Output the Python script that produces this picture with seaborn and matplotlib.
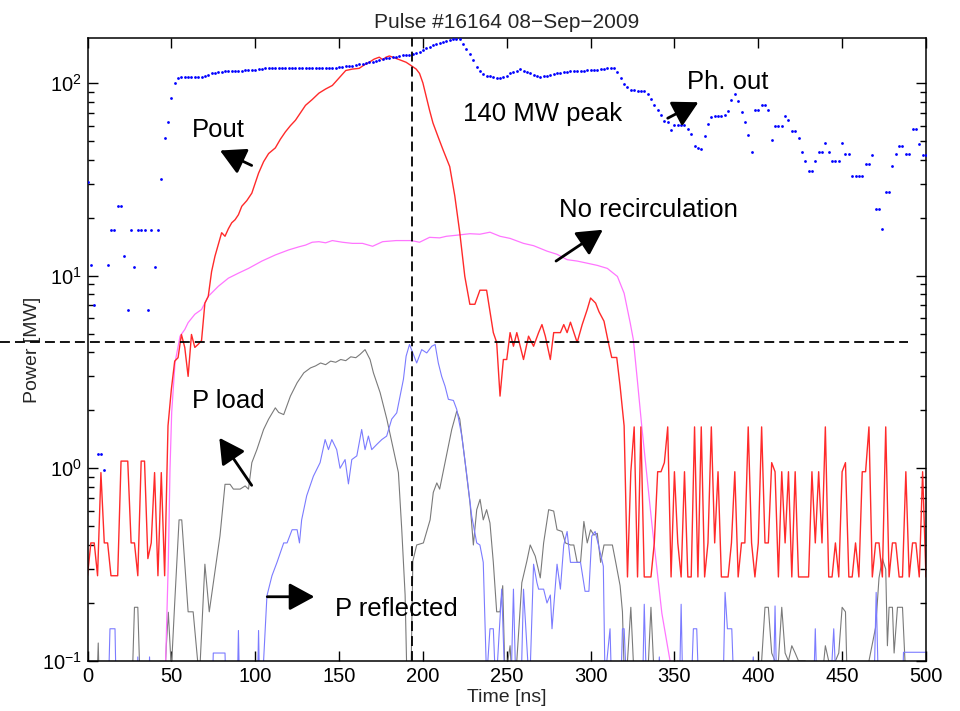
import numpy as np
import matplotlib
matplotlib.use("Agg")
import matplotlib.pyplot as plt
import seaborn as sns

sns.set_theme(style="ticks")
plt.rcParams['font.family'] = ['Liberation Sans', 'DejaVu Sans']
plt.rcParams['mathtext.default'] = 'regular'

# ---------------- data (time [ns], power [MW]) ----------------
pout_pts = [(0, 0.277), (2, 0.41), (4, 0.41), (6, 0.277), (8, 0.95), (10, 0.41), (12, 0.41),
            (14, 0.277), (18, 0.277), (20, 1.09), (24, 1.09), (26, 0.41), (28, 0.41), (30, 0.277),
            (32, 1.09), (34, 1.09), (36, 0.34), (38, 0.41), (40, 0.95), (42, 0.277), (44, 0.95),
            (46, 0.277), (48, 1.66), (50, 2.57), (52, 3.6), (54, 3.75), (56, 4.95), (58, 4.24),
            (60, 3.0), (62, 4.95), (64, 4.24), (66, 4.4), (68, 4.6), (70, 7.2), (72, 7.8),
            (74, 10.5), (76, 12.6), (78, 14.5), (80, 16.7), (82, 16.0), (84, 17.5), (86, 18.8),
            (88, 19.5), (90, 20.7), (92, 22.9), (95, 24.5), (98, 26.8), (102, 34), (105, 39),
            (108, 43), (112, 46), (115, 51), (118, 55.7), (121, 60), (124, 64), (127, 70),
            (130, 76.5), (134, 82), (138, 88.5), (142, 93), (146, 97), (150, 106), (154, 116),
            (158, 118), (162, 119), (165, 124), (168, 128), (171, 133), (174, 136), (176, 132),
            (178, 136), (180, 138), (183, 135), (186, 132), (190, 128), (193, 123), (196, 118),
            (198, 112), (200, 100), (202, 85), (204, 72), (206, 62), (209, 52.7), (212, 45),
            (216, 36.8), (219, 26), (222, 16.7), (225, 9.9), (228, 7.1), (231, 7.1), (234, 8.4),
            (238, 8.4), (242, 5.06), (244, 4.5), (246, 2.37), (248, 3.67), (250, 3.67),
            (252, 5.06), (254, 4.3), (256, 5.06), (258, 4.3), (260, 3.67), (263, 4.85),
            (266, 4.3), (269, 5.06), (271, 5.57), (273, 4.85), (276, 3.67), (278, 5.06),
            (282, 5.06), (284, 5.57), (286, 5.06), (288, 5.73), (292, 4.5), (295, 5.57),
            (298, 6.67), (300, 7.65), (303, 7.2), (305, 6.5), (308, 5.8), (310.6, 4.5),
            (312.6, 3.76), (315.6, 3.76), (317.6, 2.67), (320, 1.66)]
# noise floor after the pulse, sampled every 2 ns from 322 ns
pout_tail = [0.273, 0.96, 1.64, 0.273, 1.64, 0.273, 0.273, 0.273, 0.41, 0.96,
             0.96, 1.07, 1.64, 0.273, 0.96, 0.41, 0.273, 0.96, 0.273, 0.273,
             1.64, 0.273, 1.64, 0.273, 0.41, 1.64, 0.41, 0.96, 0.273, 0.273,
             0.273, 0.41, 0.96, 0.273, 0.41, 0.41, 1.64, 0.41, 0.273, 0.41,
             1.64, 0.41, 0.41, 1.07, 0.96, 0.273, 0.96, 0.41, 0.96, 0.273,
             0.96, 0.273, 0.273, 0.273, 0.273, 0.96, 0.41, 0.96, 0.41, 1.64,
             0.273, 0.273, 0.41, 0.273, 0.96, 1.07, 0.273, 0.273, 0.41, 0.273,
             0.96, 0.96, 1.64, 0.273, 0.41, 0.41, 0.273, 1.64, 0.273, 0.41,
             0.41, 0.273, 0.273, 0.96, 0.273, 0.41, 0.41, 0.273, 0.96, 0.273]

norecirc_pts = [(46.6, 0.1), (48.2, 0.33), (49.2, 0.99), (50.2, 1.95), (52.2, 3.54), (55.2, 4.85),
                (58, 5.25), (60, 5.7), (64, 6.3), (68, 6.67), (72, 7.8), (78, 8.8), (84, 9.7),
                (90, 10.3), (96, 10.9), (104, 11.9), (112, 12.8), (120, 13.6), (126, 14.1),
                (130, 14.4), (134, 14.9), (138, 15.0), (142, 14.8), (146, 15.2), (152, 14.9),
                (158, 14.7), (164, 14.7), (170, 14.2), (176, 15.0), (184, 15.2), (193, 15.2),
                (198, 14.9), (204, 15.8), (210, 15.7), (214, 16.0), (220, 16.2), (228, 16.5),
                (234, 16.4), (240, 16.8), (246, 16.0), (252, 15.6), (260, 14.7), (266, 14.3),
                (274, 13.4), (280, 12.9), (286, 12.1), (292, 11.9), (298, 11.6), (304, 11.3),
                (310, 10.9), (316, 9.9), (320, 8.1), (323.6, 5.7), (325.5, 4.65), (328, 2.8),
                (330.5, 1.66), (336.5, 0.52), (342.5, 0.177), (347.4, 0.1), (350, 0.08)]

# photodiode output, one sample every 2 ns from 0 ns
phout = [30.5, 11.3, 7.07, 1.18, 1.18, 0.98, 11.4, 17.3, 17.3, 23, 23, 12.6, 6.67, 17.2,
         11.1, 17.2, 17.2, 17.2, 6.67, 17.2, 11.1, 17.2, 31.7, 52, 62.5, 84, 99.7, 106,
         107, 107, 107, 107, 107, 107, 107, 108, 110, 112, 113, 114, 114, 115, 115, 116,
         116, 116, 116, 117, 117, 117, 117, 118, 118, 119, 119, 119, 119, 119, 119, 119,
         119, 119, 119, 119, 119, 119, 119, 119, 119, 119, 119, 119, 120, 120, 120, 121,
         121, 122, 122, 123, 124, 125, 126, 127, 128, 129, 130, 131, 133, 134, 135, 136,
         137, 138, 139, 139, 140, 141, 143, 145, 148, 151, 154, 157, 159, 162, 164, 166,
         168, 170, 170, 170, 160, 150, 142, 131, 121, 115, 111, 109, 108, 107, 106, 106,
         107, 109, 112, 114, 116, 118, 116, 114, 112, 110, 108, 107, 108, 109, 110, 111,
         112, 113, 114, 114, 115, 115, 116, 116, 116, 117, 117, 117, 117, 118, 118, 119,
         119, 119, 114, 106, 99, 95, 92, 92, 91, 91, 91, 88, 83, 77, 72, 68, 63.8, 62.5,
         57, 60.8, 60.8, 60.8, 60.8, 57.6, 54.2, 47, 45.8, 45.3, 53, 61, 66.6, 67, 67,
         67.5, 68, 71.5, 81.5, 87.5, 81, 71, 63, 53.5, 44, 72.5, 72.5, 76.5, 76.5, 72,
         50.8, 60, 60, 60, 67.5, 64, 56, 56, 51.5, 44, 39.5, 34.8, 34.8, 39.5, 44, 44,
         48.5, 44, 39.5, 39.5, 39.5, 49, 43, 43, 33, 33, 33, 33, 37.8, 37.8, 42.3, 22.2,
         22.2, 17.5, 27.2, 27.2, 37, 43, 46.8, 46.8, 43, 43, 57.6, 57.6, 48.4, 42.3, 42.3]

pload_pts = [(0, 0.05), (5, 0.05), (6.4, 0.124), (7.5, 0.05), (26, 0.05), (28, 0.19), (30, 0.19),
             (32, 0.05), (45, 0.05), (47, 0.12), (48.2, 0.179), (50, 0.09), (52, 0.2), (54.6, 0.54),
             (56.2, 0.54), (60, 0.18), (63, 0.18), (66.7, 0.08), (70, 0.318), (72.6, 0.18),
             (79, 0.446), (82, 0.826), (85, 0.826), (87, 0.78), (91, 0.78), (94, 0.81), (96, 0.78),
             (98, 1.07), (101, 1.25), (105, 1.59), (108, 1.8), (112, 2.06), (114, 1.95),
             (117, 1.9), (121, 2.37), (125, 2.78), (129, 3.13), (133, 3.32), (136, 3.4),
             (139, 3.52), (142, 3.45), (145, 3.6), (148, 3.55), (151, 3.67), (154, 3.62),
             (157, 3.79), (160, 3.75), (162.5, 3.9), (165.5, 4.13), (168.5, 3.67), (170.5, 3.13),
             (174.5, 2.47), (178.5, 1.8), (182.4, 1.25), (185.4, 0.95), (187.4, 0.48),
             (189.4, 0.22), (191, 0.05), (192.5, 0.05), (194, 0.33), (196.3, 0.4), (200.3, 0.41),
             (204.3, 0.54), (206.2, 0.75), (208.3, 0.84), (210, 0.78), (213.2, 1.07),
             (217.2, 1.59), (220.2, 1.98), (222, 1.8), (225.2, 1.07), (228.1, 0.66), (230.1, 0.4),
             (232.1, 0.61), (234.1, 0.69), (236, 0.54), (238, 0.61), (240, 0.52), (242, 0.325),
             (244, 0.18), (246, 0.18), (247.6, 0.246), (249, 0.08), (252, 0.12), (254, 0.06),
             (256, 0.1), (259, 0.255), (262, 0.33), (264, 0.4), (267, 0.35), (270, 0.27),
             (272, 0.41), (275, 0.61), (278, 0.6), (280, 0.48), (283, 0.47), (285, 0.41),
             (288, 0.4), (290, 0.4), (292, 0.325), (294, 0.325), (296, 0.53), (298, 0.41),
             (300, 0.48), (302, 0.45), (304, 0.46), (306, 0.325), (308, 0.4), (311, 0.4),
             (313, 0.4), (315, 0.325), (317.6, 0.246), (319, 0.18), (320, 0.09), (322, 0.1),
             (324, 0.19), (326, 0.08), (334, 0.08), (336, 0.19), (338, 0.08), (350, 0.08),
             (352, 0.1), (354, 0.08), (400, 0.08), (402, 0.1), (404, 0.19), (406, 0.19),
             (408, 0.11), (410, 0.1), (412, 0.1), (414, 0.19), (416, 0.11), (418, 0.1),
             (420, 0.12), (422, 0.11), (424, 0.1), (428, 0.1), (430, 0.08), (438, 0.08),
             (440, 0.12), (442, 0.1), (446, 0.1), (448, 0.11), (450, 0.19), (452, 0.18),
             (453, 0.08), (462, 0.08), (466, 0.1), (470, 0.15), (472, 0.27), (474, 0.34),
             (476, 0.3), (477, 0.12), (478, 0.19), (480, 0.19), (481, 0.11), (483, 0.19),
             (486, 0.19), (488, 0.08), (500, 0.08)]

prefl_pts = [(0, 0.05), (12, 0.05), (13.4, 0.147), (16.4, 0.147), (17.4, 0.05), (29, 0.05),
             (30, 0.105), (31, 0.05), (36, 0.05), (37, 0.105), (38, 0.05), (74, 0.05), (75, 0.11),
             (82, 0.11), (83, 0.05), (89, 0.05), (90, 0.144), (91, 0.05), (101, 0.05),
             (102, 0.144), (103, 0.05), (105, 0.1), (107, 0.218), (110, 0.277), (113, 0.325),
             (117, 0.41), (119, 0.41), (122, 0.48), (125, 0.48), (126.4, 0.41), (127.7, 0.54),
             (130.7, 0.72), (134.7, 0.91), (138.7, 1.07), (141.7, 1.41), (143.7, 1.25),
             (145.7, 1.41), (148.6, 1.25), (150.6, 1.0), (153.6, 1.11), (155.6, 0.83),
             (157.6, 1.11), (160.6, 1.16), (163.5, 1.59), (165.5, 1.25), (167.5, 1.47),
             (169.5, 1.25), (172.5, 1.33), (175.5, 1.41), (178.4, 1.47), (181.4, 1.8),
             (184.4, 1.94), (186.4, 2.37), (188.4, 2.9), (190, 3.82), (192, 4.39), (194, 3.97),
             (196.3, 3.52), (199.3, 4.13), (202.3, 3.97), (205.3, 4.3), (207.3, 4.39),
             (209.2, 3.52), (211.2, 3.0), (213.2, 2.67), (215.2, 2.28), (218.2, 2.25),
             (220.2, 2.02), (223.2, 1.47), (226, 0.95), (229.1, 0.566), (232.1, 0.41),
             (234, 0.40), (236, 0.325), (238, 0.08), (240, 0.147), (242, 0.147), (243.5, 0.07),
             (247, 0.236), (249, 0.07), (252.5, 0.07), (254, 0.236), (255.5, 0.07),
             (258.5, 0.07), (260, 0.236), (263.6, 0.07), (266, 0.318), (268, 0.255),
             (269, 0.236), (272, 0.236), (274, 0.2), (276, 0.22), (277, 0.147), (280, 0.318),
             (282, 0.236), (284, 0.4), (286, 0.47), (288, 0.325), (291.7, 0.325), (294, 0.325),
             (296.7, 0.23), (299, 0.23), (300.7, 0.445), (302.7, 0.47), (304.7, 0.4),
             (307.6, 0.31), (308.6, 0.08), (311.6, 0.147), (312.6, 0.07), (318, 0.07),
             (319, 0.147), (320, 0.147), (321.6, 0.07), (331, 0.07), (332, 0.197),
             (333.4, 0.07), (340, 0.07), (341, 0.105), (342, 0.07), (353, 0.07), (354, 0.197),
             (355, 0.07), (360, 0.07), (361.3, 0.147), (363.3, 0.147), (364.5, 0.07),
             (379, 0.07), (380.2, 0.227), (381.6, 0.147), (384.2, 0.147), (385.5, 0.07),
             (396, 0.07), (397, 0.105), (398, 0.07), (409, 0.07), (410, 0.193), (411, 0.07),
             (433, 0.07), (434, 0.147), (435, 0.07), (443, 0.07), (445, 0.147), (446.5, 0.07),
             (469, 0.07), (470.3, 0.227), (471.7, 0.07), (486, 0.07), (486.6, 0.111),
             (500, 0.111)]

threshold_power = 4.55      # horizontal dashed reference [MW]
marker_time = 193.3         # vertical dashed reference [ns]
x_ticks = [0, 50, 100, 150, 200, 250, 300, 350, 400, 450, 500]

labels = ["Pout", "140 MW peak", "Ph. out", "No recirculation", "P load", "P reflected"]
label_pos = [(62.3, 52.5), (224, 63.6), (357.4, 92.8), (281.2, 20.1), (62.1, 2.05), (147.6, 0.1717)]
arrow_tail = [(97.9, 37.3), (346, 65.6), (279.4, 11.9), (97.9, 0.816), (107.2, 0.2155)]
arrow_head = [(79, 44.6), (364.3, 79.4), (307.3, 17.3), (78.6, 1.44), (135.3, 0.2155)]

# ---------------- build series ----------------
pout_t = [p[0] for p in pout_pts] + list(np.arange(322, 322 + 2 * len(pout_tail), 2))
pout_v = [p[1] for p in pout_pts] + pout_tail
phout_t = list(np.arange(0, 2 * len(phout), 2))

# ---------------- figure ----------------
fig = plt.figure(figsize=(9.6, 7.11), dpi=100)
ax = fig.add_axes([0.09115, 0.07032, 0.8734, 0.8762])
ax.set_yscale('log')

sns.lineplot(x=[p[0] for p in pload_pts], y=[p[1] for p in pload_pts], color='#7a7a7a',
             linewidth=0.8, estimator=None, sort=False, ax=ax)
sns.lineplot(x=[p[0] for p in prefl_pts], y=[p[1] for p in prefl_pts], color='#7b7bff',
             linewidth=0.8, estimator=None, sort=False, ax=ax)
sns.lineplot(x=[p[0] for p in norecirc_pts], y=[p[1] for p in norecirc_pts], color='#ff75ff',
             linewidth=0.9, estimator=None, sort=False, ax=ax)
sns.lineplot(x=pout_t, y=pout_v, color='#ff2a2a', linewidth=1.0, estimator=None, sort=False, ax=ax)
sns.scatterplot(x=phout_t, y=phout, color='#0000ff', s=4, linewidth=0, ax=ax, zorder=5)

ax.set_xlim(0, 500)
ax.set_ylim(0.1, 171)
ax.set_xticks(x_ticks)

dash = (0, (5.5, 2.8))
ax.axhline(threshold_power, xmin=-0.1044, xmax=0.9785, color='black', lw=1.3,
           linestyle=dash, clip_on=False, zorder=6)
ax.axvline(marker_time, color='black', lw=1.3, linestyle=dash, zorder=6)

for txt, (tx, ty) in zip(labels, label_pos):
    ax.text(tx, ty, txt, fontsize=18.5, ha='left', va='baseline', color='black', zorder=7)
for (x0, y0), (x1, y1) in zip(arrow_tail, arrow_head):
    ax.annotate("", xy=(x1, y1), xytext=(x0, y0),
                arrowprops=dict(arrowstyle='-|>,head_length=0.7,head_width=0.38',
                                color='black', lw=2.0, shrinkA=0, shrinkB=0,
                                mutation_scale=22), zorder=7)

ax.set_title("Pulse #16164 08\u2212Sep\u22122009", fontsize=15, pad=7)
ax.set_xlabel("Time [ns]", fontsize=14)
ax.set_ylabel("Power [MW]", fontsize=14)
ax.xaxis.set_label_coords(0.5, -0.045)
ax.yaxis.set_label_coords(-0.055, 0.5)

for s in ax.spines.values():
    s.set_visible(True)
    s.set_linewidth(1.1)
    s.set_color('black')
ax.tick_params(which='both', direction='in', top=True, right=True, colors='black',
               labelsize=14.5, width=1.0)
ax.tick_params(which='major', length=7, pad=4)
ax.tick_params(which='minor', length=4)

fig.savefig("out.png", dpi=100)
